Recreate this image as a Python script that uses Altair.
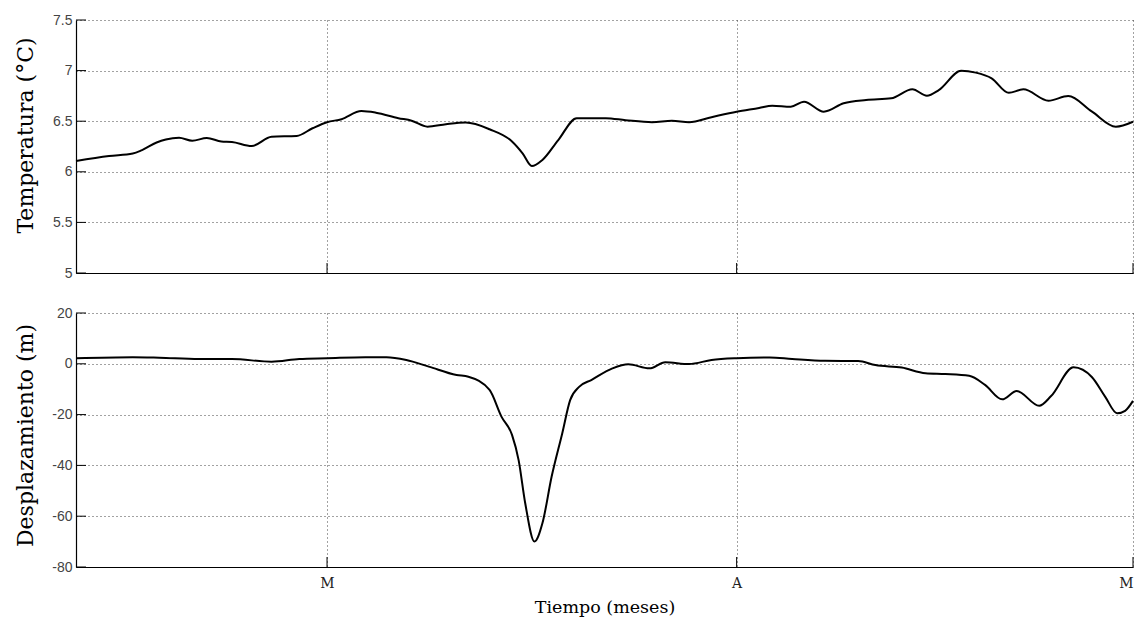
import altair as alt
import pandas as pd

# Days counted from 1 March (M=0, A=31, M=61)
temp_day = [-19, -16.5, -14.7, -14, -12.9, -12.2, -11.2, -10.2, -9.1, -8.0, -7.2, -5.7, -4.2, -2.3, -1.1, 0,
            1.1, 2.6, 3.7, 5.4, 6.4, 7.6, 9.0, 10.5, 12.3, 14.0, 14.8, 15.5, 16.3, 17.5, 18.9, 21.1, 22.6,
            24.6, 26.1, 27.4, 29.1, 31, 32.7, 33.7, 35.1, 36.1, 37.6, 39.1, 40.8, 42.7, 44.3, 45.4, 46.3,
            48.0, 49.1, 50.3, 51.6, 52.7, 54.6, 56.1, 57.9, 59.7, 61]
temp_val = [6.107, 6.156, 6.18, 6.215, 6.29, 6.32, 6.337, 6.307, 6.334, 6.30, 6.295, 6.255, 6.347, 6.354,
            6.43, 6.49, 6.52, 6.60, 6.584, 6.53, 6.505, 6.446, 6.47, 6.486, 6.42, 6.30, 6.183, 6.057, 6.117,
            6.314, 6.53, 6.53, 6.51, 6.49, 6.505, 6.49, 6.54, 6.594, 6.63, 6.653, 6.643, 6.693, 6.594,
            6.677, 6.71, 6.726, 6.815, 6.752, 6.808, 6.999, 6.98, 6.924, 6.78, 6.815, 6.703, 6.749, 6.594,
            6.446, 6.495]

disp_day = [-19, -14.7, -12.7, -9.7, -7.2, -4.2, -2.1, 0, 2.9, 4.5, 6.0, 7.7, 9.8, 10.7, 12.3, 13.2, 14.0,
            14.5, 15.0, 15.7, 16.3, 17.0, 17.8, 18.4, 19.1, 20.0, 21.6, 22.8, 24.4, 25.6, 27.4, 29.1, 31,
            33.5, 35.2, 37.7, 40.2, 41.5, 43.5, 45.3, 46.8, 48.6, 49.8, 51.1, 52.2, 53.9, 54.8, 56.5, 57.9,
            58.9, 59.8, 60.4, 61]
disp_val = [2.2, 2.6, 2.4, 1.9, 1.9, 0.8, 1.9, 2.2, 2.6, 2.6, 1.5, -1.1, -4.4, -5.1, -10.3, -20.8, -28.0,
            -37.9, -54.9, -70.0, -62.8, -44.4, -27.4, -14.3, -9.0, -6.4, -1.8, -0.2, -1.8, 0.6, -0.1, 1.5,
            2.2, 2.5, 1.9, 1.2, 1.1, -0.5, -1.5, -3.7, -4.0, -4.7, -8.3, -14.0, -10.7, -16.5, -12.7, -1.4,
            -5.3, -13.0, -19.5, -18.5, -14.6]

month_ticks = [0, 31, 61]
month_labels = ["M", "A", "M"]
temp_ticks = [5, 5.5, 6, 6.5, 7, 7.5]
disp_ticks = [-80, -60, -40, -20, 0, 20]

W, H1, H2 = 1057, 253, 254
SERIF = "DejaVu Serif"
SANS = "Liberation Sans"

label_expr = " : ".join(
    [f"datum.value == {v} ? '{l}'" for v, l in zip(month_ticks, month_labels)]) + " : ''"

grid_common = dict(grid=True, gridColor="#444444", gridDash=[1, 3], gridWidth=1,
                   domainColor="black", domainWidth=1.2, ticks=False)


def xaxis(show_labels):
    kw = dict(values=month_ticks, labelExpr=label_expr, labelFont=SERIF, labelFontSize=14,
              labelColor="#222222", labelPadding=9, **grid_common)
    if show_labels:
        kw.update(title="Tiempo (meses)", titleFont=SERIF, titleFontSize=17.5,
                  titleFontWeight="normal", titleColor="black", titlePadding=8)
    else:
        kw.update(title=None, labels=False)
    return alt.Axis(**kw)


def yaxis(title, values, title_y):
    return alt.Axis(values=values, title=title, titleFont=SERIF, titleFontSize=22,
                    titleFontWeight="normal", titleColor="black", titleX=-51, titleY=title_y,
                    titleBaseline="middle", labelFont=SANS, labelFontSize=14,
                    labelExpr="datum.value + ''",
                    labelColor="#444444", labelPadding=4, **grid_common)


xscale = alt.Scale(domain=[-19, 61], nice=False, zero=False)

temp_df = pd.DataFrame({"d": temp_day, "v": temp_val})
disp_df = pd.DataFrame({"d": disp_day, "v": disp_val})


def panel(df, ydomain, yticks, title, title_y, height, show_x):
    yscale = alt.Scale(domain=ydomain, nice=False, zero=False)
    line = alt.Chart(df).mark_line(color="black", strokeWidth=2, interpolate="monotone").encode(
        x=alt.X("d:Q", scale=xscale, axis=xaxis(show_x)),
        y=alt.Y("v:Q", scale=yscale, axis=yaxis(title, yticks, title_y)),
    )
    xt = alt.Chart(pd.DataFrame({"t": month_ticks})).mark_rule(color="black", strokeWidth=1).encode(
        x=alt.X("t:Q", scale=xscale),
        y=alt.value(height), y2=alt.value(height - 10),
    )
    yt = alt.Chart(pd.DataFrame({"t": yticks})).mark_rule(color="black", strokeWidth=1).encode(
        y=alt.Y("t:Q", scale=yscale),
        x=alt.value(0), x2=alt.value(10),
    )
    return alt.layer(line, xt, yt).properties(width=W, height=height)


top = panel(temp_df, [5, 7.5], temp_ticks, "Temperatura (°C)", 115, H1, False)
bottom = panel(disp_df, [-80, 20], disp_ticks, "Desplazamiento (m)", 122, H2, True)

chart = alt.vconcat(top, bottom, spacing=40, bounds="flush").properties(
    padding={"left": 13, "top": 13, "right": 4, "bottom": 4},
    background="white",
).configure_view(stroke=None)

chart.save("out.html", embed_options={"renderer": "svg", "actions": False})
